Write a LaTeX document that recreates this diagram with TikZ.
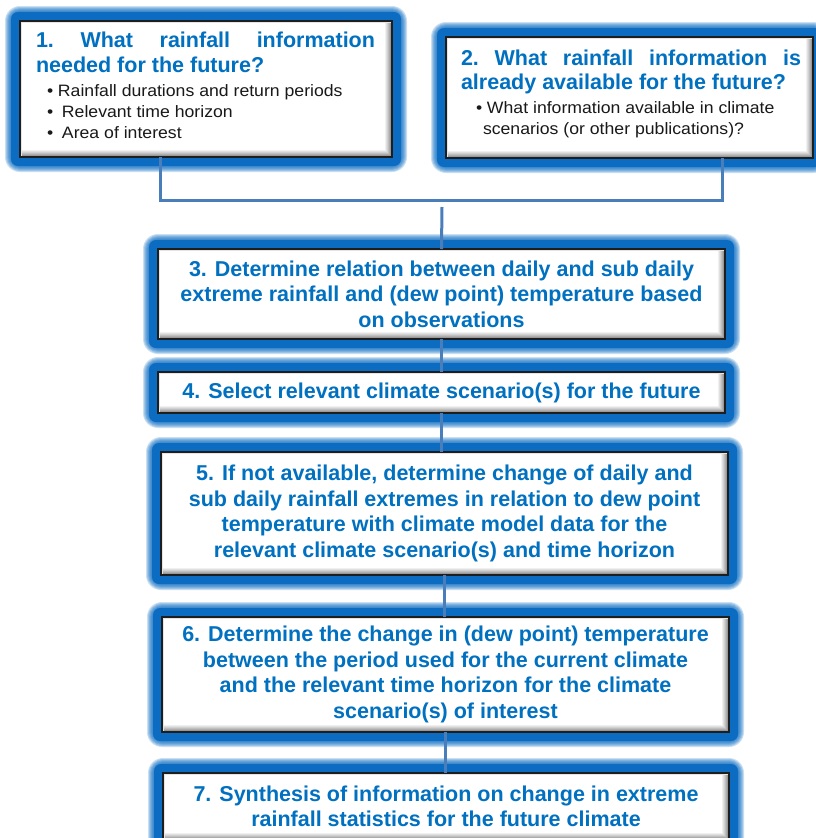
\documentclass[tikz,border=0pt]{standalone}
\usepackage{fontspec}
\setmainfont{Liberation Sans}
\newfontfamily\headfont{Liberation Sans}
\newfontfamily\notefont[FakeStretch=1.07]{Liberation Sans}
\usetikzlibrary{calc,backgrounds}

\definecolor{titleblue}{HTML}{0070C0}
\definecolor{glowblue}{HTML}{0B6CC2}
\definecolor{linkblue}{HTML}{4A7EBB}
\definecolor{rimgray}{HTML}{1E1E1E}

\tikzset{
  stepbox/.style={rectangle, inner sep=0pt, outer sep=0pt, fill=white,
    draw=rimgray, line width=1.6pt,
    path picture={
      % bevel: darkening bands along the bottom and right edges
      \foreach \k/\g in {7/6,6/12,5/18,4/25,3/32,2/40,1/48}{
        \fill[black!\g]
          ([yshift=\k pt]path picture bounding box.south west) rectangle
          ([yshift=\k pt-1pt]path picture bounding box.south east);
        \fill[black!\g]
          ([xshift=-\k pt]path picture bounding box.south east) rectangle
          ([xshift=-\k pt+1pt]path picture bounding box.north east);
      }
      \fill[black!10]
        (path picture bounding box.north west) rectangle
        ([yshift=-1.5pt]path picture bounding box.north east);
      \fill[black!10]
        (path picture bounding box.north west) rectangle
        ([xshift=1.5pt]path picture bounding box.south west);
    },
    font=\headfont\bfseries\fontsize{21.5}{25.5}\selectfont, text=titleblue, align=center},
  headline/.style={inner sep=0pt, outer sep=0pt, anchor=base west, text=titleblue,
    font=\headfont\bfseries\fontsize{21.5}{25.5}\selectfont},
  noteline/.style={inner sep=0pt, outer sep=0pt, anchor=base west, text=black!90,
    font=\notefont\fontsize{16.5}{21}\selectfont},
  link/.style={draw=linkblue, line width=3pt},
}

\begin{document}
\begin{tikzpicture}[x=1pt, y=-1pt]
  \useasboundingbox (0,0) rectangle (816,838);

  % question boxes
  \node[stepbox, minimum width=372pt, minimum height=136pt] (b1) at (206,89) {};
  \node[stepbox, minimum width=367pt, minimum height=121pt] (b2) at (629.5,97.5) {};

  % procedure steps
  \node[stepbox, minimum width=567pt, minimum height=90pt] (b3) at (441.5,294)
    {3. Determine relation between daily and sub daily\\
     extreme rainfall and (dew point) temperature based\\
     on observations};
  \node[stepbox, minimum width=567pt, minimum height=41pt] (b4) at (441.5,392.5)
    {4. Select relevant climate scenario(s) for the future};
  \node[stepbox, minimum width=567pt, minimum height=123pt] (b5) at (444.5,513.5)
    {5. If not available, determine change of daily and\\
     sub daily rainfall extremes in relation to dew point\\
     temperature with climate model data for the\\
     relevant climate scenario(s) and time horizon};
  \node[stepbox, minimum width=567pt, minimum height=115pt] (b6) at (445.5,674.5)
    {6. Determine the change in (dew point) temperature\\
     between the period used for the current climate\\
     and the relevant time horizon for the climate\\
     scenario(s) of interest};
  \node[stepbox, minimum width=566pt, minimum height=67pt] (b7) at (446,806.5)
    {7. Synthesis of information on change in extreme\\
     rainfall statistics for the future climate};

  % soft blue glow around every box
  \begin{pgfonlayer}{background}
    \foreach \b in {b1,b2,b3,b4,b5,b6,b7}{
      \foreach \d in {15,14,13,12,11,10}{
        \fill[glowblue, opacity=0.22, rounded corners=\d pt]
          ([xshift=-\d pt, yshift=\d pt]\b.north west) rectangle
          ([xshift=\d pt, yshift=-\d pt]\b.south east);
      }
      \fill[glowblue, rounded corners=7pt]
        ([xshift=-9pt, yshift=9pt]\b.north west) rectangle
        ([xshift=9pt, yshift=-9pt]\b.south east);
    }
  \end{pgfonlayer}

  % text of question 1
  \node[headline] (t1a) at (36,47) {\hbox to 339pt{1.\hfill What\hfill rainfall\hfill information}};
  \node[headline] (t1b) at (36,72) {needed for the future?};
  \node[noteline] (n1a) at (47,96) {\makebox[11pt][l]{•}Rainfall durations and return periods};
  \node[noteline] (n1b) at (47,117) {\makebox[15pt][l]{•}Relevant time horizon};
  \node[noteline] (n1c) at (47,138) {\makebox[15pt][l]{•}Area of interest};

  % text of question 2
  \node[headline] (t2a) at (461,65) {\hbox to 340pt{2.\hfill What\hfill rainfall\hfill information\hfill is}};
  \node[headline] (t2b) at (461,89) {already available for the future?};
  \node[noteline] (n2a) at (476,113) {\makebox[11pt][l]{•}What information available in climate};
  \node[noteline] (n2b) at (483,134) {scenarios (or other publications)?};

  % connectors
  \coordinate (d1) at (b1.south -| 160,0);
  \coordinate (d2) at (b2.south -| 722,0);
  \coordinate (bar) at (442,200);
  \coordinate (drop) at (442,207);
  \draw[link] (d1) |- (bar) -| (d2);
  \draw[link] (drop) -- (b3.north);
  \draw[link] (b3.south) -- (b3.south |- b4.north);
  \draw[link] (b4.south) -- (b4.south |- b5.north);
  \draw[link] (b5.south) -- (b5.south |- b6.north);
  \draw[link] (b6.south) -- (b6.south |- b7.north);
\end{tikzpicture}
\end{document}
